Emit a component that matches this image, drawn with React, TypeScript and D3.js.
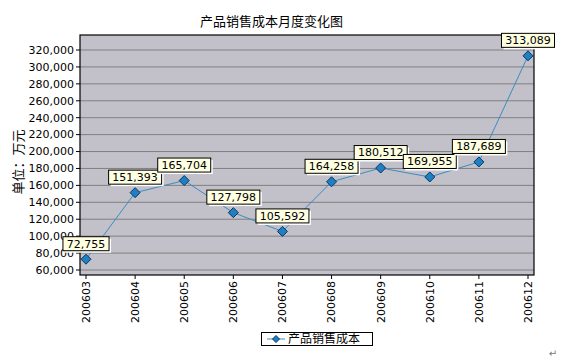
import React from "react";
import * as d3 from "d3";

const categories = ["200603","200604","200605","200606","200607","200608","200609","200610","200611","200612"];
const values = [72755, 151393, 165704, 127798, 105592, 164258, 180512, 169955, 187689, 313089];
const yTicks = [60000,80000,100000,120000,140000,160000,180000,200000,220000,240000,260000,280000,300000,320000];
const title = "产品销售成本月度变化图";
const yTitle = "单位：万元";
const seriesName = "产品销售成本";

const W = 564, H = 361;
const plot = { left: 80, right: 534, top: 35, bottom: 275 };
const numFont = "'DejaVu Sans', sans-serif";
const cjkFont = "'Noto Sans CJK SC', sans-serif";

export default function App() {
  const x = d3.scalePoint<string>().domain(categories).range([86, 528]);
  const y = d3.scaleLinear().domain([60000, 320000]).range([270, 50]);
  const fmt = d3.format(",");
  const line = d3.line<number>().x((_, i) => x(categories[i])!).y(d => y(d));
  const diamond = (cx: number, cy: number, r: number) =>
    `M${cx},${cy - r}L${cx + r},${cy}L${cx},${cy + r}L${cx - r},${cy}Z`;
  const labelW = (s: string) => s.replace(/,/g, "").length * 6.9 + 3.6 + 8;

  return (
    <div style={{ position: "absolute", left: 0, top: 0 }}>
      <svg width={W} height={H} style={{ display: "block", background: "#fff" }}>
        <text x={271.5} y={26} textAnchor="middle" fontFamily={cjkFont} fontSize={13} fill="#000">{title}</text>
        <rect x={plot.left} y={plot.top} width={plot.right - plot.left} height={plot.bottom - plot.top} fill="#C2C0C8" />
        {yTicks.map(t => (
          <g key={t}>
            <line x1={plot.left} x2={plot.right} y1={y(t)} y2={y(t)} stroke="#808080" strokeWidth={1} />
            <line x1={plot.left - 4} x2={plot.left} y1={y(t)} y2={y(t)} stroke="#000" strokeWidth={1} />
            <text x={plot.left - 6} y={y(t)} dy="0.35em" textAnchor="end" fontFamily={numFont} fontSize={11} fill="#000">{fmt(t)}</text>
          </g>
        ))}
        <rect x={plot.left} y={plot.top} width={plot.right - plot.left} height={plot.bottom - plot.top} fill="none" stroke="#000" strokeWidth={1.2} />
        {categories.map(c => (
          <g key={c}>
            <line x1={x(c)!} x2={x(c)!} y1={plot.bottom} y2={plot.bottom + 4} stroke="#000" />
            <text transform={`translate(${x(c)!},${plot.bottom + 6}) rotate(-90)`} dy="0.35em" textAnchor="end" fontFamily={numFont} fontSize={11} fill="#000">{c}</text>
          </g>
        ))}
        <text transform={`translate(18,162) rotate(-90)`} dy="0.35em" textAnchor="middle" fontFamily={cjkFont} fontSize={13} fill="#000">{yTitle}</text>
        <path d={line(values) || ""} fill="none" stroke="#3A8CC4" strokeWidth={1} />
        {values.map((v, i) => (
          <path key={i} d={diamond(x(categories[i])!, y(v), 5)} fill="#1E80C2" stroke="#0B3560" strokeWidth={1} />
        ))}
        {values.map((v, i) => {
          const s = fmt(v);
          const w = labelW(s);
          const cx = x(categories[i])!;
          const by = y(v) - 8.5;
          return (
            <g key={"l" + i}>
              <rect x={cx - w / 2 + 2} y={by - 14 + 2} width={w} height={14} fill="#fff" />
              <rect x={cx - w / 2} y={by - 14} width={w} height={14} fill="#FFFFE1" stroke="#000" strokeWidth={1} />
              <text x={cx} y={by - 7} dy="0.36em" textAnchor="middle" fontFamily={numFont} fontSize={11} fill="#000">{s}</text>
            </g>
          );
        })}
        <rect x={261.5} y={332.5} width={111} height={13} fill="#fff" stroke="#000" strokeWidth={1} />
        <line x1={267} x2={285} y1={339} y2={339} stroke="#3A8CC4" />
        <path d={diamond(276, 339, 3.5)} fill="#1E80C2" stroke="#0B3560" strokeWidth={1} />
        <text x={288} y={339} dy="0.36em" fontFamily={cjkFont} fontSize={12} fill="#000">{seriesName}</text>
        <text x={553} y={357} textAnchor="middle" fontFamily={numFont} fontSize={10} fill="#777">↵</text>
      </svg>
    </div>
  );
}
